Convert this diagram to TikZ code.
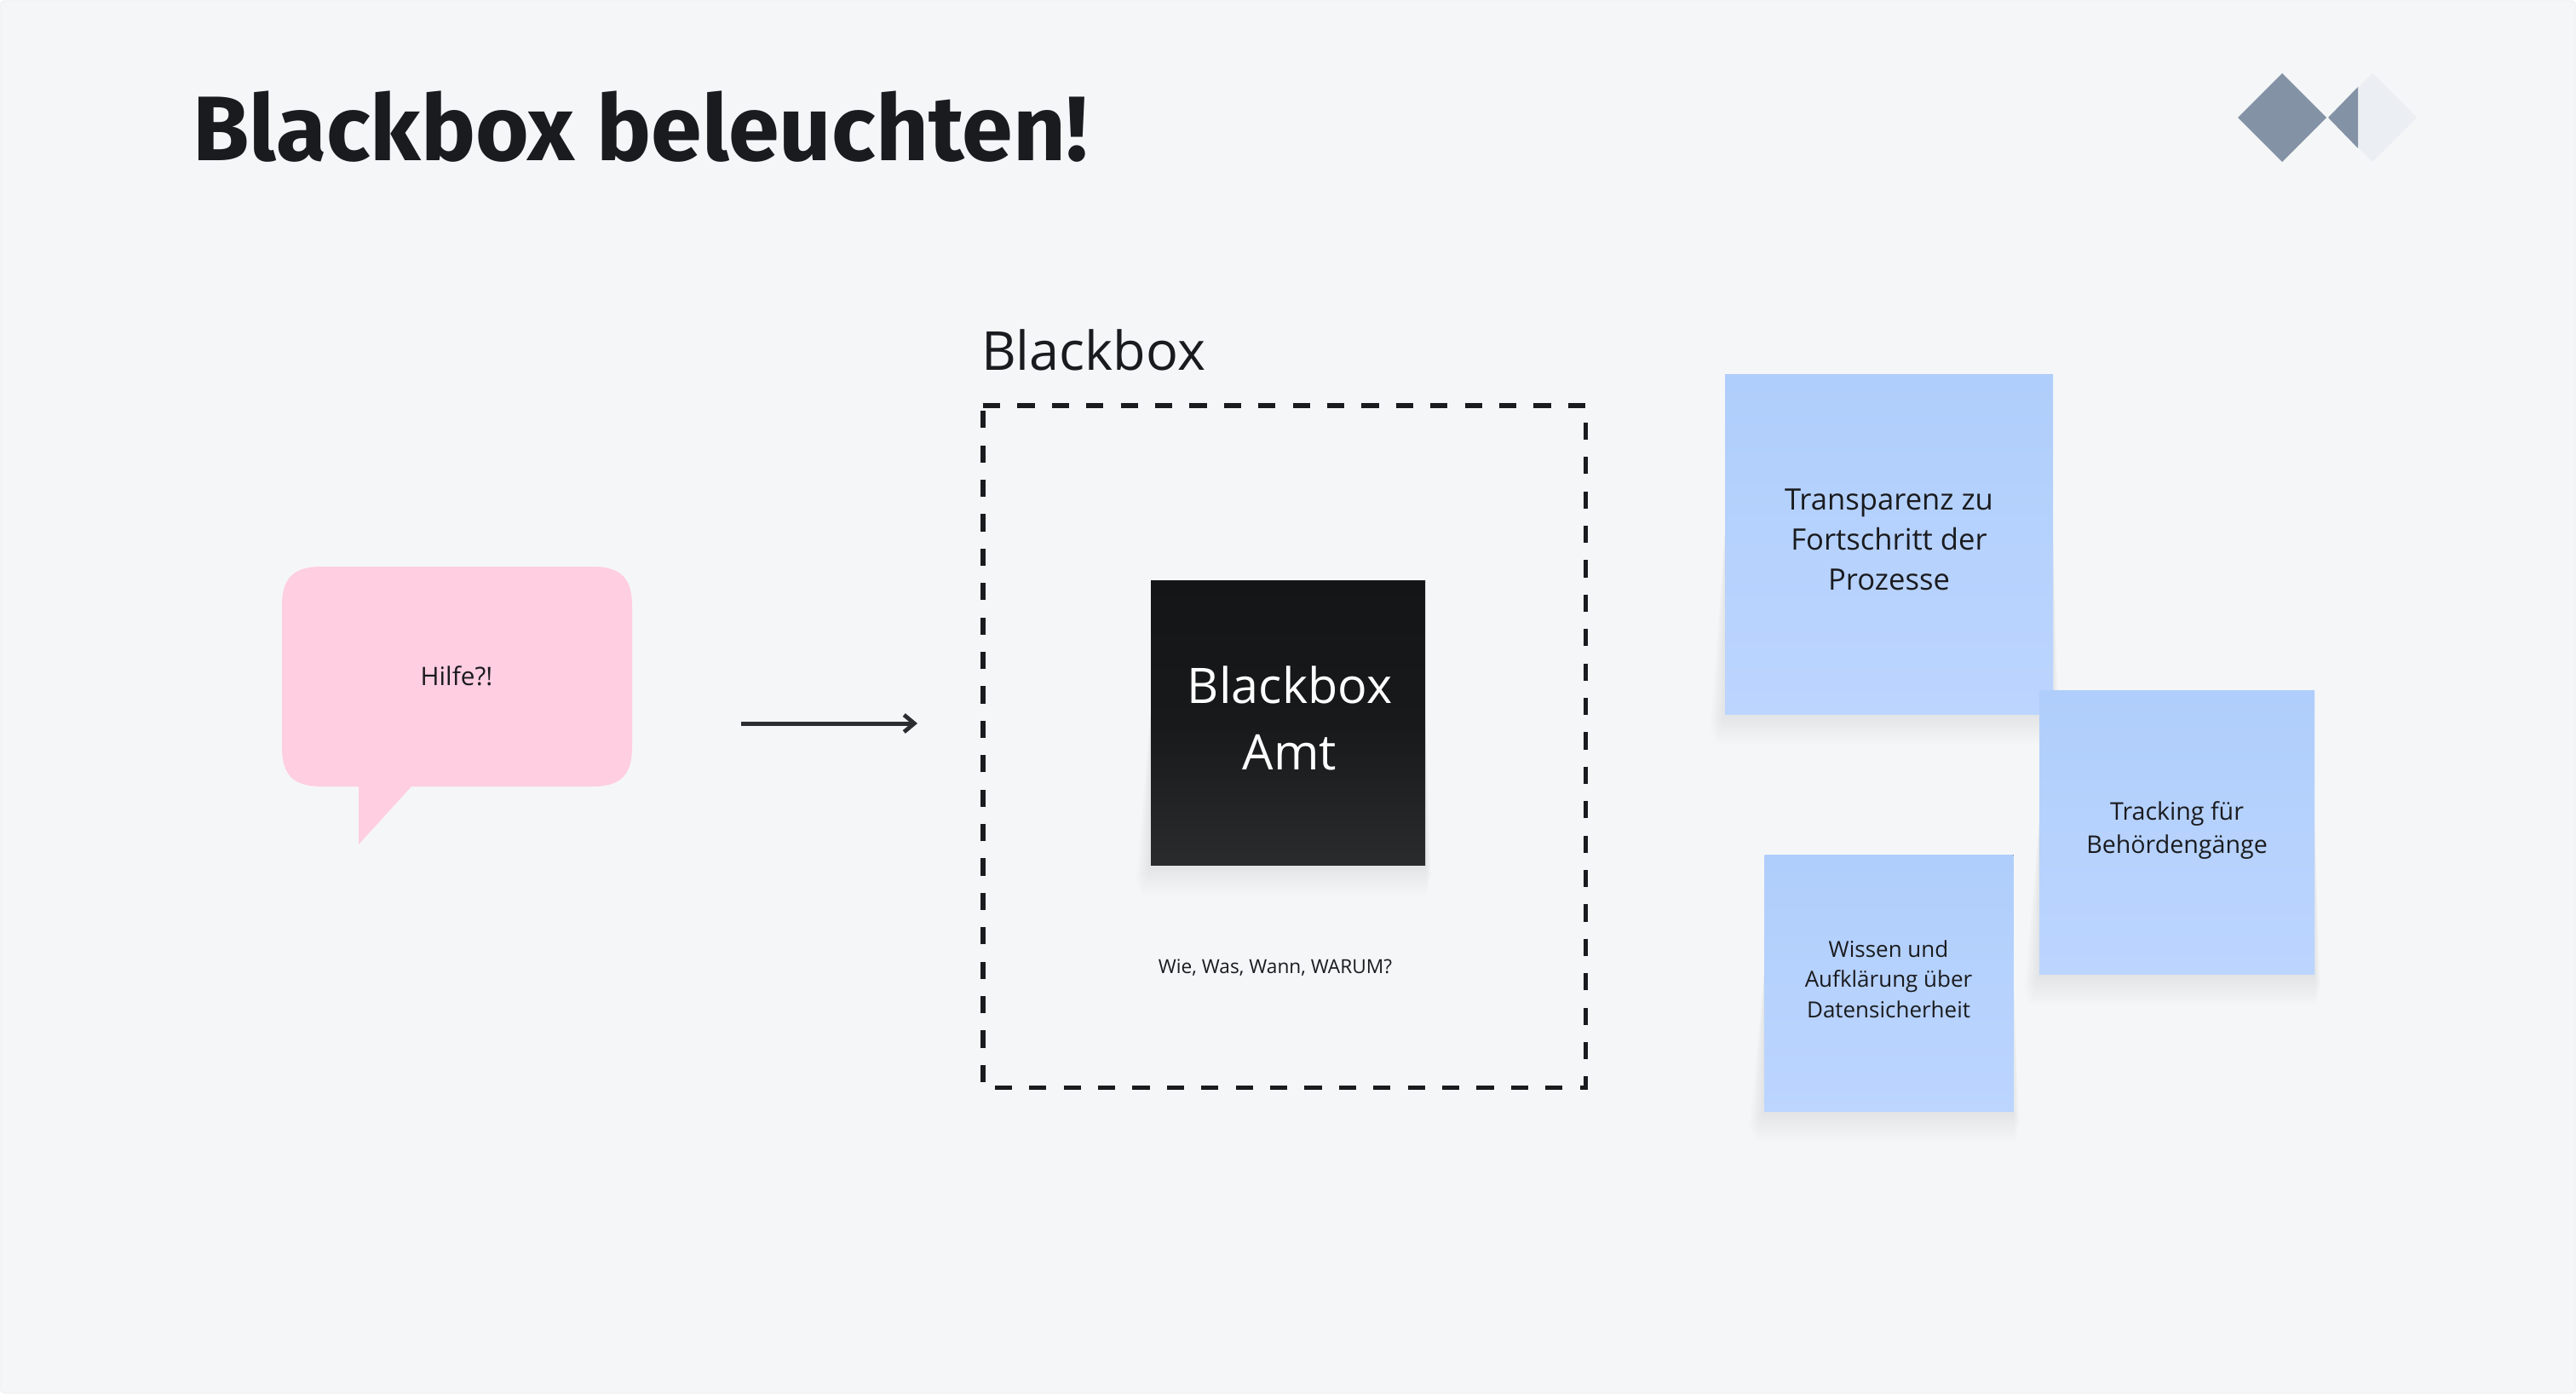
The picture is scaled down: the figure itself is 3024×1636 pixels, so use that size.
\documentclass[tikz,border=0pt]{standalone}
\usepackage{fontspec}
\setmainfont{Open Sans}
\newfontfamily\titlefont{Fira Sans}
\usetikzlibrary{arrows.meta,fadings,shadings}
\definecolor{pagebg}{HTML}{F5F6F8}
\definecolor{ink}{HTML}{1A1B1E}
\definecolor{slate}{HTML}{8492A6}
\definecolor{slatelt}{HTML}{EBEEF2}
\definecolor{bubblepink}{HTML}{FFCEE0}
\definecolor{notetop}{HTML}{B0CEFB}
\definecolor{notebot}{HTML}{BBD5FF}
\definecolor{blacktop}{HTML}{141516}
\definecolor{blackmid}{HTML}{18191A}
\definecolor{blackbot}{HTML}{2A2B2C}
\definecolor{shadowtint}{HTML}{2A3A4A}
\newcommand{\fs}[1]{\fontsize{\fpeval{#1/2}}{\fpeval{#1*0.6}}\selectfont}
\newcommand{\softshadow}[4]{% x1,y1,x2,y2
  \foreach \g in {2,4,...,36}{
    \fill[shadowtint,opacity=0.0055] ({#1},{#4-(#4-#2)*0.55}) -- ({#1-\g*0.5},{#4+\g*0.5}) -- ({#1-\g*0.3},{#4+\g}) -- ({#3+\g*0.05},{#4+\g}) -- ({#3+\g*0.2},{#4+\g*0.4}) -- ({#3},{#4-(#4-#2)*0.55}) -- cycle;
  }
}
\tikzset{
  x=0.5pt,y=-0.5pt,
  labeltext/.style={inner sep=0,outer sep=0,text=ink,align=center},
  flow/.style={draw=ink!92,line width=2.5pt,-{Straight Barb[length=6pt,width=10pt,line width=2.4pt]}},
  dashbox/.style={draw=ink,line width=2.7pt,dash pattern=on 10.1pt off 10.1pt},
}
\begin{document}
\begin{tikzpicture}
\useasboundingbox (0,0) rectangle (3024,1636);
\fill[white] (0,0) rectangle (3024,1636);
\fill[pagebg,draw=black!6,line width=0.6pt,rounded corners=2pt] (1,1) rectangle (3023,1635);
% title
\node[anchor=base west,inner sep=0,text=ink] (title) at (226,188.7) {\titlefont\bfseries\fs{107.6}Blackbox beleuchten!};
% logo
\fill[slatelt] (2768,103) -- (2785,86) -- (2837,138) -- (2785,190) -- (2768,173) -- cycle;
\fill[slate] (2627,138) -- (2679,86) -- (2731,138) -- (2679,190) -- cycle;
\fill[slate] (2733,138) -- (2768,102) -- (2768,174) -- cycle;
% bubble
\fill[bubblepink] (377,665) -- (696,665) .. controls (730,665) and (742,680) .. (742,711) -- (742,877) .. controls (742,908) and (730,923) .. (696,923) -- (483,923) -- (421,991) -- (421,923) -- (377,923) .. controls (343,923) and (331,908) .. (331,877) -- (331,711) .. controls (331,680) and (343,665) .. (377,665) -- cycle;
\node[labeltext,anchor=base] (hilfe) at (536,804) {\fs{29.8}Hilfe?!};
% arrow
\coordinate (arrowstart) at (870,849);
\coordinate (arrowend) at (1077,849);
\draw[flow] (arrowstart) -- (arrowend);
% dashed box
\node[labeltext,anchor=base west] (boxlabel) at (1152,434.7) {\fs{63}Blackbox};
\draw[dashbox] (1154,476) -- (1861.5,476) -- (1861.5,1276.5) -- (1154,1276.5) -- cycle;
% black note
\softshadow{1351}{681}{1673}{1015}
\fill[top color=blacktop,bottom color=blackbot,middle color=blackmid] (1351,681) rectangle (1673,1015);
\node[inner sep=0,anchor=base,text=white] (amt1) at (1514,825) {\fs{57.5}Blackbox};
\node[inner sep=0,anchor=base,text=white] (amt2) at (1514,903) {\fs{57.5}Amt};
\node[labeltext,anchor=base] (wie) at (1497,1142.5) {\fs{22.7}Wie, Was, Wann, WARUM?};
% blue notes
\softshadow{2025}{440}{2410}{838}
\fill[top color=notetop,bottom color=notebot] (2025,440) rectangle (2410,838);
\node[labeltext,anchor=base] (n1a) at (2217.5,598) {\fs{34.6}Transparenz zu};
\node[labeltext,anchor=base] (n1b) at (2217.5,645.5) {\fs{34.6}Fortschritt der};
\node[labeltext,anchor=base] (n1c) at (2217.5,692.5) {\fs{34.6}Prozesse};
\softshadow{2394}{810}{2717}{1143.5}
\fill[top color=notetop,bottom color=notebot] (2394,810) rectangle (2717,1143.5);
\node[labeltext,anchor=base] (n2a) at (2555.5,962) {\fs{28.6}Tracking für};
\node[labeltext,anchor=base] (n2b) at (2555.5,1001) {\fs{28.6}Behördengänge};
\softshadow{2071}{1003}{2363.5}{1304}
\fill[top color=notetop,bottom color=notebot] (2071.5,1003) rectangle (2363.5,1304);
\node[labeltext,anchor=base] (n3a) at (2217,1123.5) {\fs{26}Wissen und};
\node[labeltext,anchor=base] (n3b) at (2217,1158.5) {\fs{26}Aufklärung über};
\node[labeltext,anchor=base] (n3c) at (2217,1194) {\fs{26}Datensicherheit};
\end{tikzpicture}
\end{document}
